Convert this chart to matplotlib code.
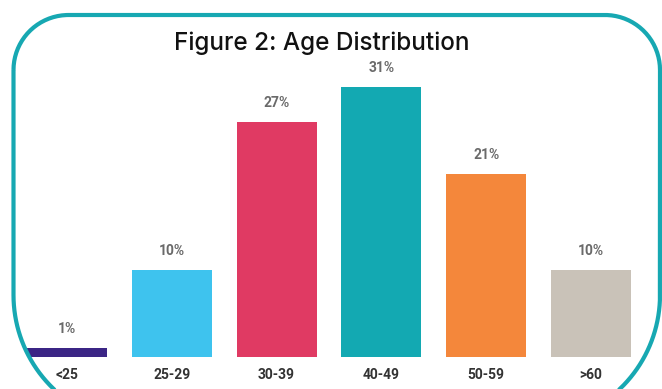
import numpy as np
import matplotlib
matplotlib.use("Agg")
import matplotlib.pyplot as plt
from matplotlib import font_manager
from matplotlib.path import Path
from matplotlib.patches import PathPatch

# Age distribution data
categories = ["<25", "25-29", "30-39", "40-49", "50-59", ">60"]
shares = [1, 10, 27, 31, 21, 10]
bar_colors = ["#3b2585", "#3ec3ee", "#e03a63", "#13a9b2", "#f4873b", "#c9c2b8"]
title = "Figure 2: Age Distribution"

W, H = 662, 389
DPI = 100

installed = {f.name for f in font_manager.fontManager.ttflist}


def pick(*names):
    for n in names:
        if n in installed:
            return n
    return "DejaVu Sans"


label_font = pick("Liberation Sans Narrow", "DejaVu Sans Condensed", "Roboto", "DejaVu Sans")
title_font = pick("Inter", "Lato", "Open Sans", "DejaVu Sans")

fig = plt.figure(figsize=(W / DPI, H / DPI), dpi=DPI)
fig.patch.set_facecolor("white")


def px_box(left, top, right, bottom):
    return [left / W, 1 - bottom / H, (right - left) / W, (bottom - top) / H]


# Bar panel: slot width ~104.8 px, baseline at y=357, ~8.7 px per percent
ymax = 35
axes_top = 357 - ymax * 8.7
ax = fig.add_axes(px_box(14.6, axes_top, 643.4, 357))
x = np.arange(len(categories))
bars = ax.bar(x, shares, width=0.765, color=bar_colors, zorder=2)
ax.set_xlim(-0.5, len(categories) - 0.5)
ax.set_ylim(0, ymax)
ax.axis("off")

for xi, v in zip(x, shares):
    ax.annotate(f"{v}%", (xi, v), xytext=(0, 14), textcoords="offset points",
                ha="center", va="center", fontsize=10, color="#6a6a6a",
                family=label_font, fontweight="bold")
    ax.annotate(categories[xi], (xi, 0), xytext=(0, -13), textcoords="offset points",
                ha="center", va="center", fontsize=10, color="#333333",
                family=label_font, fontweight="bold")

fig.text(322 / W, 1 - 50 / H, title, ha="center", va="baseline",
         fontsize=17.5, color="#111111", family=title_font, fontweight="medium")


# Rounded teal frame (top corners tighter than bottom ones)
def frame_path(left, top, right, bottom, r_top, r_bot, n=40):
    pts = []

    def arc(cx, cy, r, a0, a1):
        t = np.linspace(a0, a1, n)
        return list(zip(cx + r * np.cos(t), cy + r * np.sin(t)))

    # pixel coords with y downward
    pts += arc(left + r_top, top + r_top, r_top, np.pi, 1.5 * np.pi)
    pts += arc(right - r_top, top + r_top, r_top, 1.5 * np.pi, 2 * np.pi)
    pts += arc(right - r_bot, bottom - r_bot, r_bot, 0, 0.5 * np.pi)
    pts += arc(left + r_bot, bottom - r_bot, r_bot, 0.5 * np.pi, np.pi)
    pts.append(pts[0])
    verts = [(px / W, 1 - py / H) for px, py in pts]
    return Path(verts)


frame = PathPatch(frame_path(13.5, 15, 660, 425, 55, 130), transform=fig.transFigure,
                  facecolor="none", edgecolor="#17a8b2", linewidth=3.0, zorder=5)
fig.patches.append(frame)

fig.savefig("out.png", dpi=DPI, facecolor="white")
